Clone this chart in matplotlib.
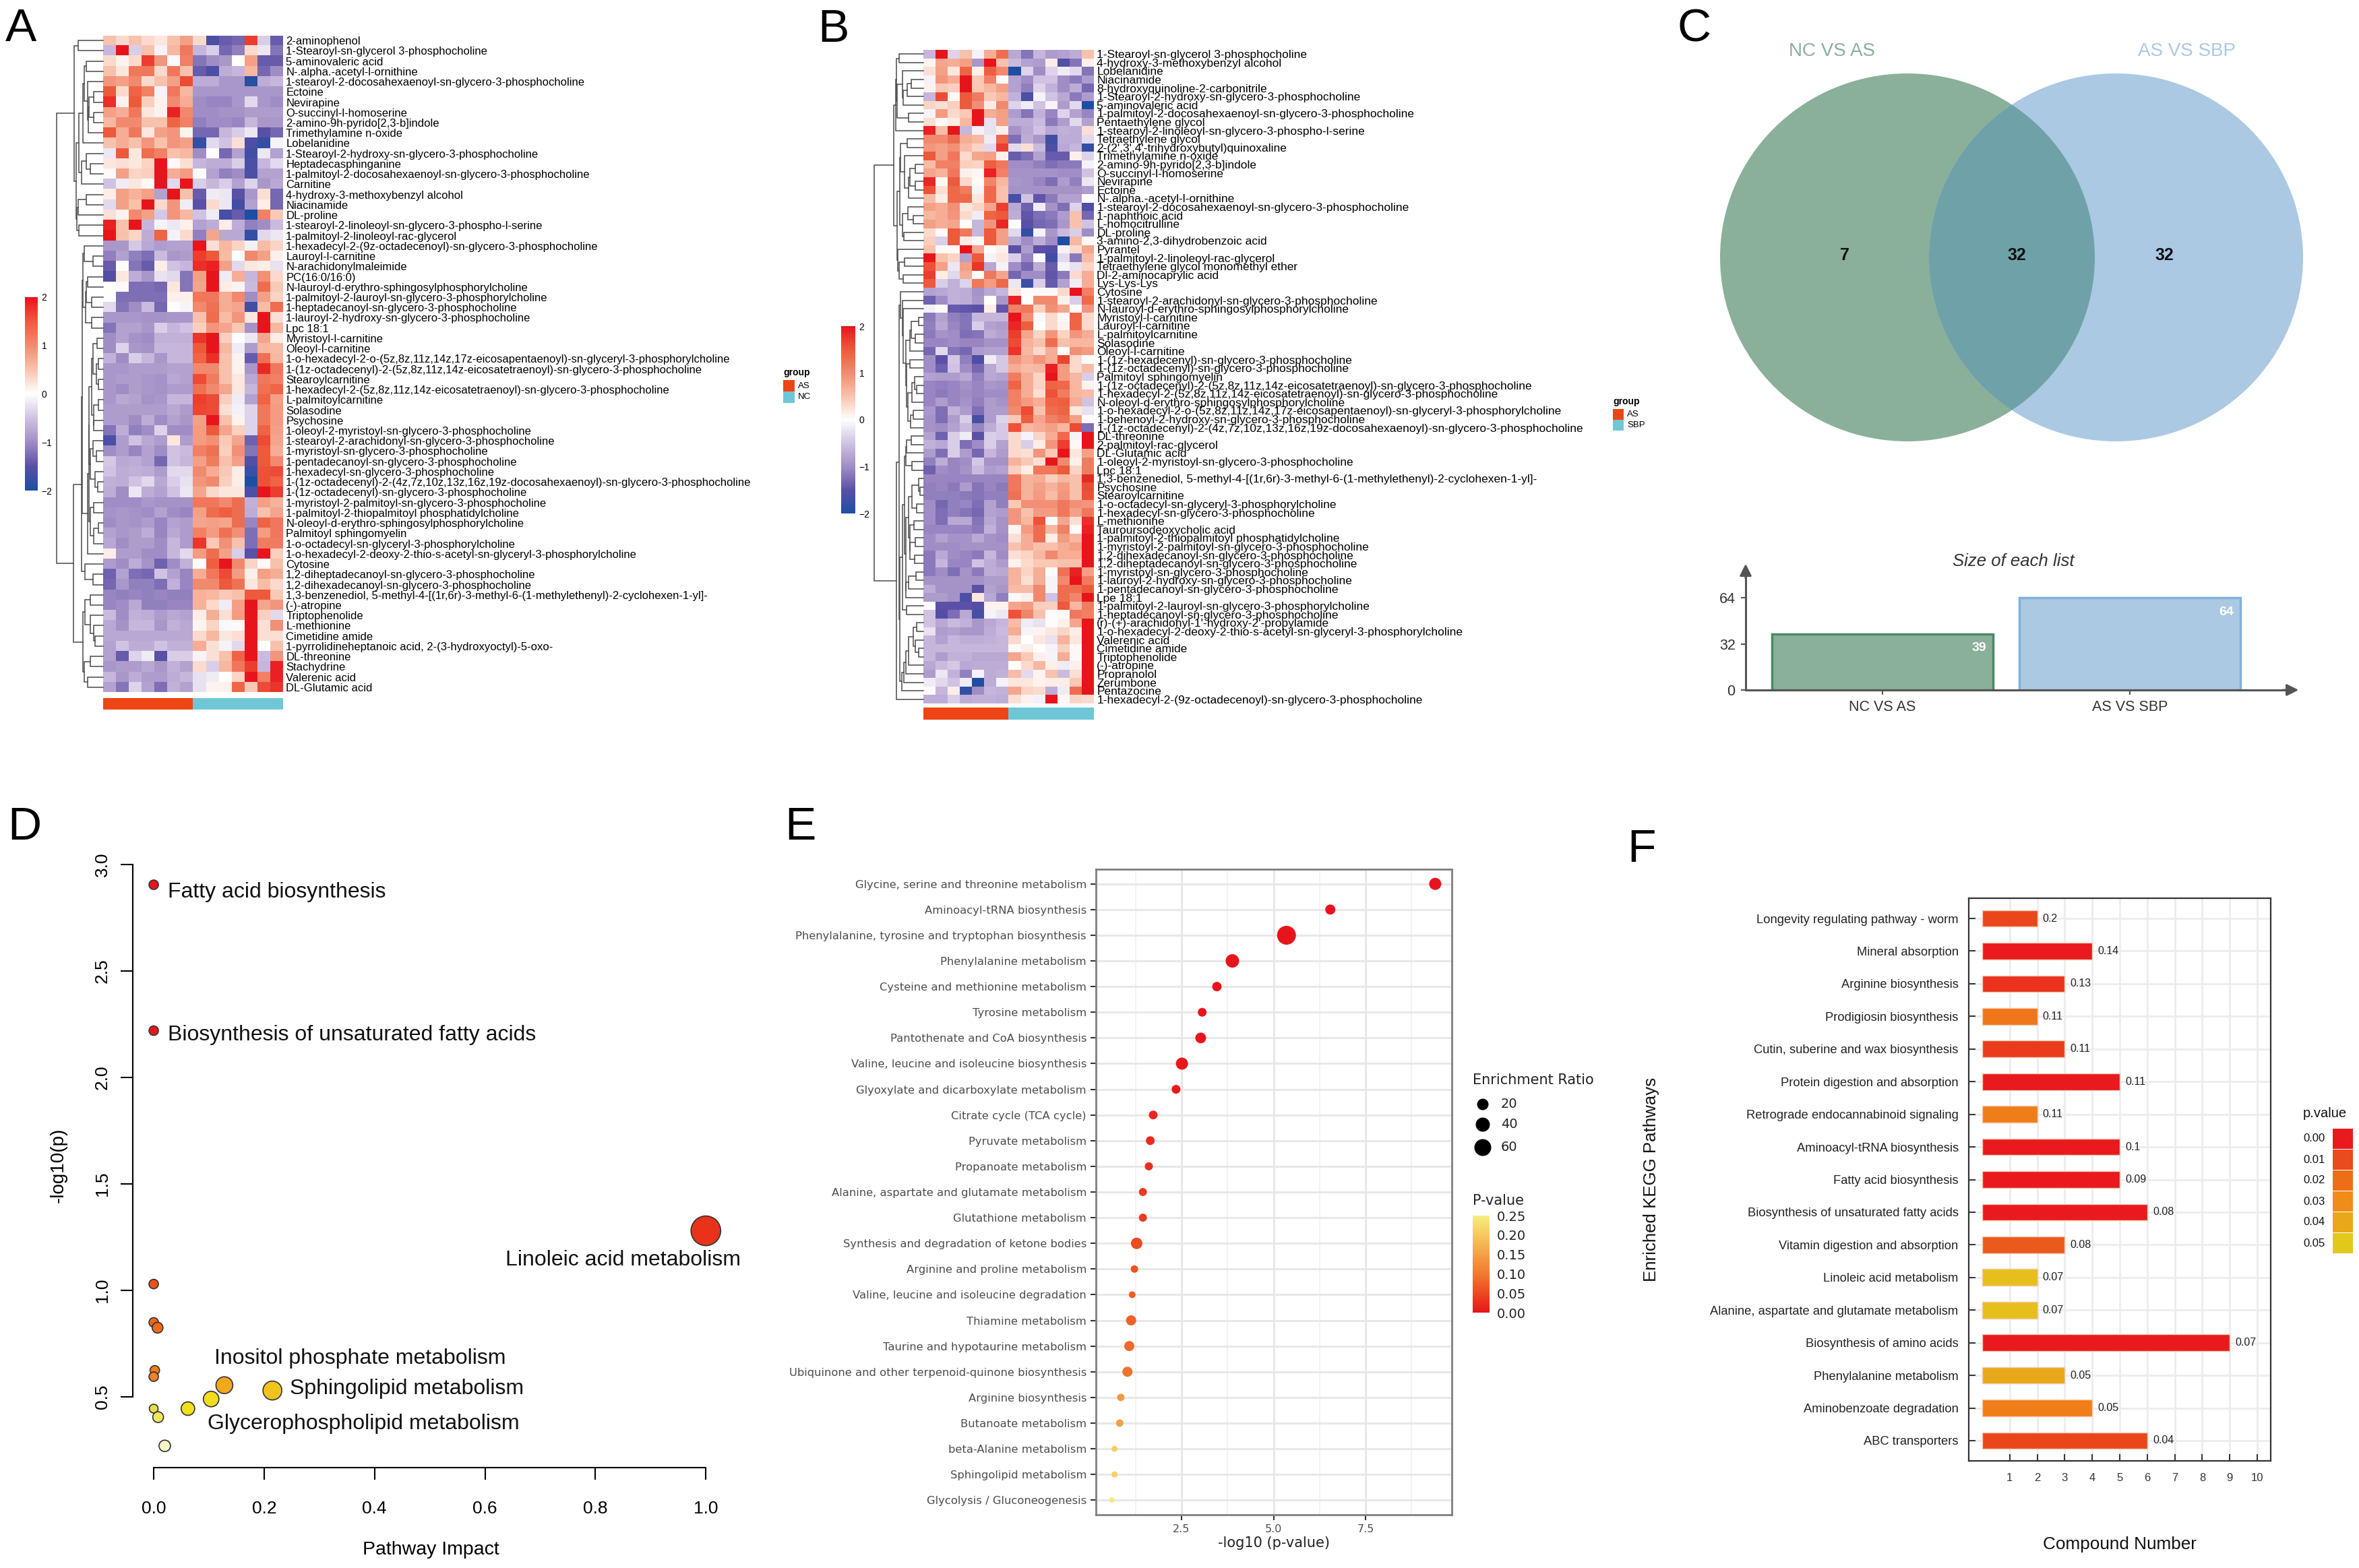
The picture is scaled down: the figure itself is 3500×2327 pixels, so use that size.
import matplotlib
matplotlib.use('Agg')
import matplotlib.pyplot as plt
from matplotlib.colors import LinearSegmentedColormap, Normalize
from matplotlib.patches import Ellipse, Rectangle
import numpy as np

plt.rcParams['font.family'] = ['Liberation Sans', 'DejaVu Sans']

W, H = 3500, 2327

# ---- panel A ----
a_labels = ['2-aminophenol', '1-Stearoyl-sn-glycerol 3-phosphocholine', '5-aminovaleric acid', 'N-.alpha.-acetyl-l-ornithine',
    '1-stearoyl-2-docosahexaenoyl-sn-glycero-3-phosphocholine', 'Ectoine', 'Nevirapine', 'O-succinyl-l-homoserine',
    '2-amino-9h-pyrido[2,3-b]indole', 'Trimethylamine n-oxide', 'Lobelanidine', '1-Stearoyl-2-hydroxy-sn-glycero-3-phosphocholine',
    'Heptadecasphinganine', '1-palmitoyl-2-docosahexaenoyl-sn-glycero-3-phosphocholine', 'Carnitine', '4-hydroxy-3-methoxybenzyl alcohol',
    'Niacinamide', 'DL-proline', '1-stearoyl-2-linoleoyl-sn-glycero-3-phospho-l-serine', '1-palmitoyl-2-linoleoyl-rac-glycerol',
    '1-hexadecyl-2-(9z-octadecenoyl)-sn-glycero-3-phosphocholine', 'Lauroyl-l-carnitine', 'N-arachidonylmaleimide', 'PC(16:0/16:0)',
    'N-lauroyl-d-erythro-sphingosylphosphorylcholine', '1-palmitoyl-2-lauroyl-sn-glycero-3-phosphorylcholine',
    '1-heptadecanoyl-sn-glycero-3-phosphocholine', '1-lauroyl-2-hydroxy-sn-glycero-3-phosphocholine', 'Lpc 18:1', 'Myristoyl-l-carnitine',
    'Oleoyl-l-carnitine', '1-o-hexadecyl-2-o-(5z,8z,11z,14z,17z-eicosapentaenoyl)-sn-glyceryl-3-phosphorylcholine',
    '1-(1z-octadecenyl)-2-(5z,8z,11z,14z-eicosatetraenoyl)-sn-glycero-3-phosphocholine', 'Stearoylcarnitine',
    '1-hexadecyl-2-(5z,8z,11z,14z-eicosatetraenoyl)-sn-glycero-3-phosphocholine', 'L-palmitoylcarnitine', 'Solasodine', 'Psychosine',
    '1-oleoyl-2-myristoyl-sn-glycero-3-phosphocholine', '1-stearoyl-2-arachidonyl-sn-glycero-3-phosphocholine',
    '1-myristoyl-sn-glycero-3-phosphocholine', '1-pentadecanoyl-sn-glycero-3-phosphocholine', '1-hexadecyl-sn-glycero-3-phosphocholine',
    '1-(1z-octadecenyl)-2-(4z,7z,10z,13z,16z,19z-docosahexaenoyl)-sn-glycero-3-phosphocholine', '1-(1z-octadecenyl)-sn-glycero-3-phosphocholine',
    '1-myristoyl-2-palmitoyl-sn-glycero-3-phosphocholine', '1-palmitoyl-2-thiopalmitoyl phosphatidylcholine',
    'N-oleoyl-d-erythro-sphingosylphosphorylcholine', 'Palmitoyl sphingomyelin', '1-o-octadecyl-sn-glyceryl-3-phosphorylcholine',
    '1-o-hexadecyl-2-deoxy-2-thio-s-acetyl-sn-glyceryl-3-phosphorylcholine', 'Cytosine', '1,2-diheptadecanoyl-sn-glycero-3-phosphocholine',
    '1,2-dihexadecanoyl-sn-glycero-3-phosphocholine', '1,3-benzenediol, 5-methyl-4-[(1r,6r)-3-methyl-6-(1-methylethenyl)-2-cyclohexen-1-yl]-',
    '(-)-atropine', 'Triptophenolide', 'L-methionine', 'Cimetidine amide', '1-pyrrolidineheptanoic acid, 2-(3-hydroxyoctyl)-5-oxo-',
    'DL-threonine', 'Stachydrine', 'Valerenic acid', 'DL-Glutamic acid']

a_values = [
 [.5,.3,.5,.3,.2,.5,.8,.3,-1.6,-1.4,-1.3,1.7,-.4,-1.4],
 [-.6,2,-.4,.5,-.1,.6,1.2,-.6,-.4,-1.3,-1.1,.3,-.2,-1.2],
 [.3,.1,.3,1.7,.9,-.05,1.1,-1.2,-1,-.9,0,.8,-1.4,-1.4],
 [.5,.2,1.2,1.2,.3,1.2,.5,-1.4,-1.6,-.7,-.6,.6,-1.3,-1],
 [.9,.8,1,.3,.5,.8,1.6,-.7,-.7,-.9,-.9,-1.9,-.7,-.6],
 [1.5,.3,1.4,1.1,-.1,1.2,.6,-.9,-.9,-.9,-.9,-.9,-.9,-.9],
 [1.8,.1,1.5,.4,.1,1,.7,-1,-1.05,-1.05,-.9,-.3,-.9,-1],
 [.8,.7,1.2,.2,.1,1.9,1,-1,-1,-.95,-.95,-.85,-.85,-.85],
 [.6,1,1,.5,.5,1.4,1.1,-1.1,-1,-1,-1.05,-.6,-.9,-.9],
 [1.5,.7,1.2,.2,.8,.9,.1,-1.3,-1.3,-.6,-.4,-.2,-1.5,-1.3],
 [.5,.7,.5,.9,.5,.9,.8,-1.8,-.3,-.5,.25,-1.6,-1.8,-.1],
 [-.2,1.5,.2,1.3,1.1,.5,.6,-1,0,-1.3,-.8,-1.7,-.2,-.8],
 [.2,.25,.2,.35,2,.05,.25,-.6,-.7,-.7,-.4,-1.6,-.6,-.3],
 [.05,.8,.35,.4,2,.7,.85,.02,-.8,-1.1,-1,-1.6,-.8,-.8],
 [-.5,-.15,.2,.05,2,-.3,2,-.4,-.6,-.4,-.8,-.35,-.9,-.75],
 [.15,.8,.65,.8,-.8,2,.5,-1.4,-.15,-.2,-1.5,-.9,.25,-1.3],
 [-.3,.8,.5,2,.3,.9,-.15,-1.5,.3,-.2,-1.7,-.8,.15,-1.3],
 [.25,.1,1,.8,-.45,.9,.6,-.5,-.15,-1.65,-1.4,-2,1.1,.45],
 [1.9,.5,2,-.6,-.08,-.2,.12,-.8,-.7,.15,-.7,-1.1,-1,-.55],
 [2,.5,.35,-.7,1.4,-.1,.3,-1.1,.75,-.75,-.75,-1.8,-.3,-.2],
 [-.9,-.9,-.45,-.75,-.85,-.8,-.8,2,.25,.6,.35,-.12,.55,.35],
 [-1.1,-.8,-1.1,-1.25,-.55,-.9,-.85,1.7,1.5,.55,0,1,.8,.12],
 [-1.4,.03,-1.2,-1.4,.15,-.5,-.6,1.8,1.9,.8,-.3,.2,.15,-.25],
 [-1.55,.2,-.7,-.9,-.25,-.3,-1.2,.8,2,-.15,.7,-.6,.95,.3],
 [0,.06,-1.25,-1.25,-1.3,.2,-1.2,.75,2,.15,.08,-.55,1.3,.45],
 [0,-1.25,-1.25,-1.25,-1.25,.12,.12,1.2,1.2,.7,1,-1,.8,.35],
 [-.3,-1.2,-1,-.55,-1.3,-.02,-.08,1,1.25,.7,.75,-1.7,.55,1.3],
 [-.9,-.9,-.9,-.95,-.95,-.9,-.9,.5,1.3,.55,.9,.2,2,.25],
 [-1.2,-.8,-.8,-.9,-.4,-.6,-.5,.4,.9,.75,.45,-.95,2,.6],
 [-1,-.8,-.95,-1,-.65,-.65,-.65,1.75,2,.4,-.02,-.2,.75,.15],
 [-1,-.35,-.9,-.95,-.6,-.6,-.6,1.5,2,.6,-.15,-.85,.6,.55],
 [-.65,-1,-.4,-.6,-.9,-.6,-.6,1.4,1.8,.5,.1,-1.4,1.25,.6],
 [-.9,-.9,-.85,-.85,-.85,-.8,-.8,1,1,.5,.1,-.9,1.85,1.2],
 [-.9,-.85,-.85,-.9,-.95,-.75,-.8,1.6,1.15,.5,.2,-.75,1.2,1.1],
 [-.9,-1,-.85,-.9,-.95,-.85,-.85,1.25,1,.75,.2,-.6,1.25,1.4],
 [-.9,-.75,-.8,-.95,-.9,-.6,-.6,1.7,1.6,.4,-.15,-.8,1.4,.8],
 [-.85,-.85,-.85,-.85,-.85,-.75,-.85,1.65,1.6,.25,-.12,-.35,1.2,.85],
 [-.85,-.85,-1,-.7,-1,-.8,-.9,.8,2,.5,.1,-.35,1.2,.85],
 [-1.2,-.7,-1.1,-1,-.35,-1,-1,.85,1.5,.75,.4,-.35,1.4,.8],
 [-1.6,-.85,-.5,-.75,-.85,.2,-.85,.85,.95,.45,.75,-1.35,1.6,.75],
 [-1,-.85,-1.05,-.8,-1,-.5,-.55,1.1,1.25,.4,.95,-1.2,1.5,.7],
 [-.45,-.75,-.7,-.8,-1.3,-.5,-.6,.8,1.15,.5,.8,-1.55,1.5,1],
 [-.5,-.7,-.65,-.7,-.85,-.3,-.3,1,.7,.45,.15,-1.75,1.55,1.6],
 [-.65,-.7,-.5,-.3,-.75,-.4,-.25,.9,1,.4,.15,-2,1.55,1.4],
 [-.7,-1,-.2,-.7,-.8,-.5,-.2,.75,.3,.2,.2,-1.6,2,1.7],
 [-1,-1,-1,-.9,-.95,-.95,-.95,1.2,1.2,1,1.3,-.65,.8,.65],
 [-.95,-.9,-.95,-1,-.8,-1,-1.05,.8,1.3,1.45,1.3,-.7,.5,.75],
 [-1,-.9,-.95,-.85,-1.05,-.8,-.85,.75,.8,.75,1.3,-1.05,1.4,1.2],
 [-.8,-.9,-.85,-.7,-1.05,-.75,-.85,1.1,.85,1.25,.95,-1.25,.85,1.2],
 [-.75,-1,-.85,-.85,-1,-.6,-.85,1.75,.45,.95,.5,-1.25,1.15,1.15],
 [.15,-.85,-.85,-1,-1,-.6,-.3,.85,1.3,.8,-.4,-1.5,2,.4],
 [-.85,-1,-.7,-.95,-1.35,-1,-.65,.02,1.45,2,1,.35,.06,.5],
 [-1.35,-.8,-1.25,-1.3,-.5,-.8,-1.05,.7,1.2,1.6,.85,.12,.8,.7],
 [-1.3,-.9,-1.1,-1.1,-1.25,-.65,-1.05,1,1,1.5,1.25,.2,.55,.3],
 [-1.05,-1.1,-1.05,-1.1,-1.05,-1.1,-1.1,.65,.6,.45,.5,1.5,1.5,.45],
 [-1.05,-1,-.75,-1.1,-1.1,-1.05,-1.05,.65,.3,-.15,.8,2,.75,.9],
 [-.55,-1,-.65,-.7,-.85,-.75,-.8,.15,.7,.25,.85,2,.4,-.3],
 [-.75,-.95,-.6,-.6,-.9,-.65,-.75,.08,.35,-.05,.05,2,.25,.95],
 [-.75,-.75,-.75,-.75,-.75,-.75,-.75,.3,.6,.2,.25,2,.25,.25],
 [-.8,-.5,-.7,-.7,-.5,-.65,-.65,.7,.25,-.1,-.3,2,0,.5],
 [-.8,-1.4,-.35,-.15,-1.5,-.4,-.4,-.08,.25,.5,1.4,2,-.55,.9],
 [-.9,-.85,-.85,-.75,-.9,-.65,-.8,.3,-.4,.6,1.2,1.7,-.6,1.9],
 [-.6,-.9,-.7,-.85,-.85,-.7,-.6,-.25,-.15,0,.35,2,1.1,1.9],
 [-.8,-1.2,-.35,-.8,-1.25,-.65,-.8,-.25,.08,.1,1.4,.45,1.6,1.75],
]

# row tree: (height, left, right), leaves are 1-based rows
a_tree = (1.0,
    (.62, (.54, 1, 2),
        (.58,
            (.52, (.43, (.41, (.36, 3, 4), (.34, 5, (.32, (.3, (.2, 6, 7), (.2, 8, 9)), 10))), 11),
                (.46, (.36, 12, (.28, 13, 14)), 15)),
            (.56, (.54, (.36, 16, 17), 18), (.52, 19, 20)))),
    (.64,
        (.47,
            (.45,
                (.43, (.41, 21, (.22, 22, 23)), (.38, (.36, (.33, 24, 25), (.25, 26, 27)), (.25, 28, 29))),
                (.33, (.31, (.3,
                    (.25, (.22, (.13, 30, 31), (.15, (.1, 32, 33), (.1, 34, 35))), (.2, (.1, 36, 37), (.2, 38, 39))),
                    (.28, (.22, 40, (.15, 41, 42)), (.17, 43, (.11, 44, 45)))),
                    (.27, (.2, 46, 47), (.2, (.1, 48, 49), 50))), 51)),
            (.39, 52, (.22, 53, 54))),
        (.43,
            (.39, (.27, 55, 56), (.28, 57, (.2, 58, (.17, 59, 60)))),
            (.4, (.27, 61, 62), (.33, 63, 64)))))

# ---- panel B ----
b_labels = ['1-Stearoyl-sn-glycerol 3-phosphocholine', '4-hydroxy-3-methoxybenzyl alcohol', 'Lobelanidine', 'Niacinamide',
    '8-hydroxyquinoline-2-carbonitrile', '1-Stearoyl-2-hydroxy-sn-glycero-3-phosphocholine', '5-aminovaleric acid',
    '1-palmitoyl-2-docosahexaenoyl-sn-glycero-3-phosphocholine', 'Pentaethylene glycol', '1-stearoyl-2-linoleoyl-sn-glycero-3-phospho-l-serine',
    'Tetraethylene glycol', "2-(2',3',4'-trihydroxybutyl)quinoxaline", 'Trimethylamine n-oxide', '2-amino-9h-pyrido[2,3-b]indole',
    'O-succinyl-l-homoserine', 'Nevirapine', 'Ectoine', 'N-.alpha.-acetyl-l-ornithine', '1-stearoyl-2-docosahexaenoyl-sn-glycero-3-phosphocholine',
    '1-naphthoic acid', 'L-homocitrulline', 'DL-proline', '3-amino-2,3-dihydrobenzoic acid', 'Pyrantel', '1-palmitoyl-2-linoleoyl-rac-glycerol',
    'Tetraethylene glycol monomethyl ether', 'Dl-2-aminocaprylic acid', 'Lys-Lys-Lys', 'Cytosine', '1-stearoyl-2-arachidonyl-sn-glycero-3-phosphocholine',
    'N-lauroyl-d-erythro-sphingosylphosphorylcholine', 'Myristoyl-l-carnitine', 'Lauroyl-l-carnitine', 'L-palmitoylcarnitine', 'Solasodine',
    'Oleoyl-l-carnitine', '1-(1z-hexadecenyl)-sn-glycero-3-phosphocholine', '1-(1z-octadecenyl)-sn-glycero-3-phosphocholine', 'Palmitoyl sphingomyelin',
    '1-(1z-octadecenyl)-2-(5z,8z,11z,14z-eicosatetraenoyl)-sn-glycero-3-phosphocholine', '1-hexadecyl-2-(5z,8z,11z,14z-eicosatetraenoyl)-sn-glycero-3-phosphocholine',
    'N-oleoyl-d-erythro-sphingosylphosphorylcholine', '1-o-hexadecyl-2-o-(5z,8z,11z,14z,17z-eicosapentaenoyl)-sn-glyceryl-3-phosphorylcholine',
    '1-behenoyl-2-hydroxy-sn-glycero-3-phosphocholine', '1-(1z-octadecenyl)-2-(4z,7z,10z,13z,16z,19z-docosahexaenoyl)-sn-glycero-3-phosphocholine',
    'DL-threonine', '2-palmitoyl-rac-glycerol', 'DL-Glutamic acid', '1-oleoyl-2-myristoyl-sn-glycero-3-phosphocholine', 'Lpc 18:1',
    '1,3-benzenediol, 5-methyl-4-[(1r,6r)-3-methyl-6-(1-methylethenyl)-2-cyclohexen-1-yl]-', 'Psychosine', 'Stearoylcarnitine',
    '1-o-octadecyl-sn-glyceryl-3-phosphorylcholine', '1-hexadecyl-sn-glycero-3-phosphocholine', 'L-methionine', 'Tauroursodeoxycholic acid',
    '1-palmitoyl-2-thiopalmitoyl phosphatidylcholine', '1-myristoyl-2-palmitoyl-sn-glycero-3-phosphocholine', '1,2-dihexadecanoyl-sn-glycero-3-phosphocholine',
    '1,2-diheptadecanoyl-sn-glycero-3-phosphocholine', '1-myristoyl-sn-glycero-3-phosphocholine', '1-lauroyl-2-hydroxy-sn-glycero-3-phosphocholine',
    '1-pentadecanoyl-sn-glycero-3-phosphocholine', 'Lpe 18:1', '1-palmitoyl-2-lauroyl-sn-glycero-3-phosphorylcholine', '1-heptadecanoyl-sn-glycero-3-phosphocholine',
    "(r)-(+)-arachidonyl-1'-hydroxy-2'-propylamide", '1-o-hexadecyl-2-deoxy-2-thio-s-acetyl-sn-glyceryl-3-phosphorylcholine', 'Valerenic acid',
    'Cimetidine amide', 'Triptophenolide', '(-)-atropine', 'Propranolol', 'Zerumbone', 'Pentazocine', '1-hexadecyl-2-(9z-octadecenoyl)-sn-glycero-3-phosphocholine']

b_values = [
 [-.6,2,-.35,.5,-.1,.7,1.3,-.75,-1.2,-.6,-.85,-.8,-.7,.5],
 [.08,.75,.7,.8,-.9,2,.5,-.55,-.8,-.85,.15,-1.55,-1.2,.12],
 [.25,.8,.2,1.4,.12,1.45,1,-2,-.35,-1,-.35,-.15,-.3,-1.2],
 [-.1,.9,.7,2,.45,1.1,0,-.8,-1,-.5,-.5,-1,-1.15,-.85],
 [.1,.45,.4,2,.45,.6,.8,-.8,-1.1,-.35,-.65,-1,-.7,-1.3],
 [-.6,1.6,.05,1.5,1.15,.45,.6,-.65,-1.6,-.1,-.5,-.75,-1.15,-.85],
 [.35,.25,.4,1.5,.95,.15,1,-.35,-.15,-.5,-.08,-.85,-.3,-2],
 [-.08,.85,.3,.45,2,.7,.8,-.85,-1.2,-.65,-1.05,-.35,-.8,-1.05],
 [.25,.05,.15,.6,2,-.25,.8,-.7,-.7,-.55,-1.15,-.85,-.3,-.8],
 [1.9,.55,2,-.6,-.12,-.25,.12,-.95,-.75,-.5,-.75,-.65,-.7,.25],
 [1,1,1.3,.7,.6,-.15,1.35,-1.25,-.7,-.9,-1.7,-.7,-.7,-.3],
 [.9,.8,.95,.55,.35,-.3,1.7,-.3,.25,-.55,-1.6,-.75,-.6,-1.8],
 [1.5,.8,1.2,.3,.75,.8,.12,-1.4,-1.25,-.8,-1.4,-1.4,.12,-.35],
 [.55,1.1,1.1,.4,.35,1.45,1.2,-1,-1,-1.1,-1.25,-1.15,-1.15,-.1],
 [.75,.65,1.2,.12,.07,1.9,1.1,-.95,-.95,-.95,-.95,-1,-1,-.5],
 [1.85,.07,1.5,.3,.05,1.05,.6,-.9,-.95,-1.05,-1.25,-.85,-1.1,-.2],
 [1.55,.25,1.35,1.15,-.08,1.35,.5,-.95,-.95,-.95,-.95,-.95,-.95,-.85],
 [.55,.15,1.35,1.35,.2,1.35,.5,-1.65,-.5,-1.45,-1.15,-.8,-.8,.03],
 [.8,.7,.95,.2,.35,.75,1.7,-.75,-1.35,-.15,-.95,-1.25,-.35,-1.6],
 [.6,.7,.9,.3,-.15,1.4,1.5,-.7,-1.45,-1.25,-1.15,-.85,.5,-1.3],
 [.8,.7,.75,.03,-.6,.9,1.85,0,-1.5,-1.3,-1.25,-.9,.5,-.5],
 [.3,.06,1.5,1.2,-.6,1.5,.8,-.3,-1.8,-.1,-.9,-.55,-.4,-1],
 [.4,-.4,1.5,.15,.06,1.5,.8,-.7,-1,-.7,-1,-2,.6,.06],
 [.5,.05,.05,2,.75,.03,.12,-1.5,-.85,-1.5,-1.55,-.1,.3,.75],
 [2,.5,.35,-.8,1.5,-.1,.2,-.4,-1.05,0,-1.7,-.3,-1.15,.55],
 [1.55,.8,-.2,.8,1.75,-.75,-.1,-1,-1.3,-.7,-1.4,-.1,-.25,.35],
 [1.7,.15,-.3,.7,.02,1.2,.75,-1.3,-1,-1,-1.45,-1.15,.3,.7],
 [1.5,-.4,-.65,-.35,1.2,.85,1.35,-.2,-1.75,-.4,-1.4,-.8,-.15,.7],
 [-.8,-.75,-.65,-.7,-.95,-.75,-.6,.2,.02,.05,.06,.3,2,1.1],
 [-1.35,-1,-.65,-.7,-.9,0,-.9,1.9,0,1,1,.12,-.4,1.35],
 [-.12,0,-1.4,-1.45,-1.5,.15,-1.45,1.1,1.2,.4,.95,.75,0,.9],
 [-1.15,-.8,-1.1,-1.2,-.6,-.6,-.6,2,.95,-.05,.3,.05,1.4,.3],
 [-1.1,-.75,-1.05,-1.2,-.4,-.8,-.85,1.85,1.45,0,.3,.1,1.4,.3],
 [-1.15,-.95,-1,-1.25,-1.2,-.7,-.8,1.7,.75,.35,.9,.35,.9,.7],
 [-1.05,-1.05,-1,-1.05,-1.05,-.95,-.95,1.6,.65,.5,1.3,.5,.6,.6],
 [-1.3,-.3,-1.2,-1.3,-.85,-.8,-.8,1.75,.6,.3,.7,-.03,.95,.85],
 [-1,-1.5,-.45,-1.1,-1.6,-.15,-.45,.9,.7,.9,.7,1.65,.3,.02],
 [-1,-1.35,-.5,-1,-1.3,-.75,-.45,.7,.55,.6,1.9,.85,.3,.55],
 [-.8,-.85,-.85,-.75,-1.1,-.75,-.8,1.15,.7,.35,2,.85,.6,-.4],
 [-1.05,-1.1,-1.05,-.95,-1.05,-.9,-.95,1.4,.7,.35,1.4,1.35,.6,.08],
 [-1.05,-1.15,-1.05,-1,-1.05,-1,-1,1.1,.7,.25,1.55,1.15,.6,.55],
 [-1.05,-.85,-1.05,-.95,-1.1,-.85,-.95,1.1,.85,.7,1.4,1.45,.7,-.5],
 [-.9,-1.25,-.65,-.85,-1.25,-.85,-.85,1,1.6,.5,1.3,1.4,.2,-.25],
 [-.95,-1.25,-.85,-.4,-1.65,-.85,-.35,.45,1.45,.75,1.1,1.25,.8,.03],
 [-.95,-1,-.8,-.55,-1.05,-.7,-.45,1.55,.6,.7,.8,.6,1.6,-1.25],
 [-.8,-1.35,-.4,-.15,-1.5,-.4,-.45,.3,-.1,.35,.7,1.35,-.08,2],
 [-.65,-.75,-.4,-1.25,-1,-.4,-.8,.3,-.4,.15,.9,1.7,.05,2],
 [-.85,-1.25,-.4,-.85,-1.3,-.6,-.85,.3,.25,.9,.45,2,.2,.8],
 [-1.1,-.7,-1.05,-1,-.45,-.95,-.95,.65,.45,.25,2,1,.12,1.15],
 [-1.35,-1,-1.05,-.95,-.55,-.85,-.8,.4,.15,1.2,1.2,1.5,.35,1.15],
 [-1.05,-1.05,-1.05,-1.05,-1.05,-1.05,-1.05,1.2,.65,.7,.4,.6,.5,1.85],
 [-1.1,-1.05,-1.15,-.85,-1.2,-1.05,-1.15,1.2,.65,.8,.65,.85,.5,1.6],
 [-1.1,-1.1,-1.1,-1.15,-1.2,-1.1,-1.1,1.25,.65,.85,.55,.9,.5,1.55],
 [-1,-1.3,-1.1,-1.05,-1.25,-.8,-1.1,.45,.95,.95,.95,1.2,.95,.9],
 [-1,-1.25,-1.1,-1.2,-1.3,-.8,-.85,.9,.5,.85,.85,1.2,.8,1.2],
 [-1,-1.25,-.75,-.75,-1.2,-.75,-.95,.9,.6,1.55,-.05,.75,.25,1.8],
 [-1.05,-1.05,-1.05,-1.05,-1.15,-.65,-.95,.08,.85,1.3,.6,1.1,.02,1.9],
 [-1,-.8,-.95,-.95,-.75,-.95,-1,.25,.7,1.3,.15,.85,.6,2],
 [-1,-1,-1,-.95,-.95,-.95,-.95,.5,.7,.5,.5,.7,.8,2],
 [-1.15,-.75,-1,-1.05,-1.15,-.6,-1,.25,.35,.6,1,.7,.7,2],
 [-1.15,-.6,-1.05,-1.05,-.5,-.7,-.85,.1,.3,.45,.45,.5,.5,2],
 [-1.15,-1,-1.25,-.95,-1.15,-.7,-.75,.65,.35,.7,.02,1.25,1.9,.8],
 [-.95,-.95,-.95,-.95,-.95,-.85,-.85,.65,.25,.7,-.08,1,2,1.15],
 [-.7,-.95,-.95,-.95,-1.5,-.8,-.9,.55,.55,1,-.08,1.3,1.3,1.5],
 [-.85,-.85,-.95,-1.6,.2,-.75,-1.1,.05,.12,1,-.5,1.3,1.05,2],
 [-.03,-1.5,-1.5,-1.5,-1.55,.1,.1,.75,.85,.4,.4,1.5,.6,1.15],
 [-.5,-1.55,-1.25,-.75,-1.65,-.1,-.2,1.55,1.05,.5,.03,.05,1.2,1.1],
 [-.5,-.75,-.55,-.65,-.9,-.75,-.6,.55,-.15,-.25,.03,.12,.75,2],
 [-.25,-.85,-.8,-.9,-.9,-.7,-.55,.7,-.08,.08,.2,.35,.15,2],
 [-.6,-.8,-.6,-.7,-.7,-.65,-.6,.3,0,.2,-.25,.65,.2,2],
 [-.6,-.6,-.6,-.6,-.6,-.6,-.6,.05,.15,0,-.1,.4,.05,2],
 [-.6,-.85,-.65,-.65,-.75,-.75,-.75,.75,.45,.12,-.08,.7,.05,2],
 [-.75,-.55,-.45,-.75,-.7,-.7,-.7,-.01,.3,.6,.12,-.15,.12,2],
 [-.85,-.2,-.65,-1.1,-.1,-.7,-.65,.55,-.3,.08,.5,-.55,.25,2],
 [-.15,-.3,-.5,-.15,-2,-.7,-.1,.2,.2,.1,.15,.15,.45,2],
 [-.02,-.6,.15,-1.8,-1,-.6,-.65,.75,.35,.3,-.7,-.15,1.3,2],
 [-.7,-.7,-.4,-.7,-.65,-.65,-.7,.25,.1,-.12,2,.06,.35,.3],
]

b_tree = (1.0,
    (.6,
        (.56,
            (.55, (.5, 1, 2), (.53, (.42, 3, (.41, (.33, 6, (.24, 4, 5)), 7)), (.3, 8, 9))), 10),
        (.54,
            (.48,
                (.46, (.33, 11, 12), (.39, 13, (.3, (.28, (.16, 14, 15), (.16, 16, 17)), 18))),
                (.43, (.32, 19, (.21, 20, 21)), (.4, 22, 23))),
            (.52, 24, (.5, (.39, 25, 26), (.41, 27, 28))))),
    (.55,
        (.5,
            (.47, 29, (.43, 30, (.41, 31, (.36,
                (.27, (.25, (.09, 32, 33), (.16, 34, 35)), 36),
                (.34, (.27, 37, 38), (.32, (.23, (.18, 39, (.14, 40, 41)), 42), (.26, (.2, 43, 44), 45))))))),
            (.48,
                (.42,
                    (.38,
                        (.36, (.34, (.25, 46, 47), 48), (.23, 49, 50)),
                        (.36,
                            (.3, (.23, (.1, 51, (.07, 52, 53)), (.14, 54, 55)), (.27, (.19, 56, 57), (.27, (.16, 58, 59), (.18, 60, 61)))),
                            (.35, (.3, (.15, 62, 63), 64), 65))),
                    (.34, 66, 67)),
                (.44, (.4, (.36, (.3, (.2, (.14, 68, 69), (.17, 70, (.09, 71, 72))), 73), 74), 75), 76))),
        77))

heat_colors = [(-2, '#1c4fa3'), (-1.5, '#5a50a6'), (-1, '#a18dc5'), (-.5, '#d0c2e2'), (0, '#ffffff'),
               (.5, '#f9c3ae'), (1, '#f28b70'), (1.5, '#ee5b3c'), (2, '#e8141c')]
group_a = ['AS', 'NC']
group_b = ['AS', 'SBP']

# ---- panel C ----
venn_names = ['NC VS AS', 'AS VS SBP']
venn_counts = [7, 32, 32]
list_sizes = [39, 64]

# ---- panel D ----
d_names = ['Fatty acid biosynthesis', 'Biosynthesis of unsaturated fatty acids', 'Linoleic acid metabolism',
           'Inositol phosphate metabolism', 'Sphingolipid metabolism', 'Glycerophospholipid metabolism']
d_impact = [0, 0, 1.0, 0, 0, .007, .002, 0, .128, .215, .104, .062, 0, .008, .02]
d_logp = [2.905, 2.22, 1.28, 1.03, .85, .825, .625, .595, .555, .53, .49, .445, .445, .405, .27]
d_diam = [14, 14, 44, 14, 14, 16, 14, 14, 25, 28, 23, 20, 13, 16, 17]
d_color = ['#e8161c', '#e8161c', '#e8321a', '#ee501c', '#f0651c', '#ee6a1c', '#f07a1c', '#f08020', '#f2a81c',
           '#f2c31c', '#f2dc1c', '#f0e01e', '#e8e040', '#eee85a', '#f8f5c8']

# ---- panel E ----
e_names = ['Glycine, serine and threonine metabolism', 'Aminoacyl-tRNA biosynthesis', 'Phenylalanine, tyrosine and tryptophan biosynthesis',
           'Phenylalanine metabolism', 'Cysteine and methionine metabolism', 'Tyrosine metabolism', 'Pantothenate and CoA biosynthesis',
           'Valine, leucine and isoleucine biosynthesis', 'Glyoxylate and dicarboxylate metabolism', 'Citrate cycle (TCA cycle)',
           'Pyruvate metabolism', 'Propanoate metabolism', 'Alanine, aspartate and glutamate metabolism', 'Glutathione metabolism',
           'Synthesis and degradation of ketone bodies', 'Arginine and proline metabolism', 'Valine, leucine and isoleucine degradation',
           'Thiamine metabolism', 'Taurine and hypotaurine metabolism', 'Ubiquinone and other terpenoid-quinone biosynthesis',
           'Arginine biosynthesis', 'Butanoate metabolism', 'beta-Alanine metabolism', 'Sphingolipid metabolism', 'Glycolysis / Gluconeogenesis']
e_logp = [9.39, 6.54, 5.35, 3.88, 3.46, 3.06, 3.02, 2.51, 2.35, 1.73, 1.65, 1.61, 1.45, 1.45, 1.28, 1.22, 1.16, 1.13, 1.08, 1.03, .85, .82, .68, .68, .61]
e_diam = [18, 15, 28, 20, 14, 13, 16, 18, 13, 13, 13, 12, 12, 12, 17, 11, 10, 15, 15, 15, 11, 11, 9, 9, 8]
e_legend_sizes = [20, 40, 60]
e_legend_diam = [17, 21, 25]
e_colors = [(0, '#e8141c'), (.05, '#ec4a20'), (.10, '#f07a30'), (.15, '#f4a048'), (.20, '#f6c860'), (.25, '#f5ee80')]

# ---- panel F ----
f_names = ['Longevity regulating pathway - worm', 'Mineral absorption', 'Arginine biosynthesis', 'Prodigiosin biosynthesis',
           'Cutin, suberine and wax biosynthesis', 'Protein digestion and absorption', 'Retrograde endocannabinoid signaling',
           'Aminoacyl-tRNA biosynthesis', 'Fatty acid biosynthesis', 'Biosynthesis of unsaturated fatty acids', 'Vitamin digestion and absorption',
           'Linoleic acid metabolism', 'Alanine, aspartate and glutamate metabolism', 'Biosynthesis of amino acids', 'Phenylalanine metabolism',
           'Aminobenzoate degradation', 'ABC transporters']
f_count = [2, 4, 3, 2, 3, 5, 2, 5, 5, 6, 3, 2, 2, 9, 3, 4, 6]
f_ratio = ['0.2', '0.14', '0.13', '0.11', '0.11', '0.11', '0.11', '0.1', '0.09', '0.08', '0.08', '0.07', '0.07', '0.07', '0.05', '0.05', '0.04']
f_color = ['#ea461c', '#e81a1e', '#ea321c', '#f0761a', '#ea3c1c', '#e81a1e', '#f07e18', '#e81a1e', '#e81a1e', '#e81a1e', '#ea5a1c',
           '#e6bf1c', '#e6bf1c', '#e81a1e', '#e9a81a', '#f07e18', '#ea461c']
f_legend_p = ['0.00', '0.01', '0.02', '0.03', '0.04', '0.05']
f_legend_c = ['#e81a1e', '#ea4a1c', '#ee6e18', '#f08c18', '#e8a81a', '#e3c81c']

fig = plt.figure(figsize=(W / 100, H / 100), dpi=100)


def box(x0, y0, x1, y1, **kw):
    return fig.add_axes([x0 / W, 1 - y1 / H, (x1 - x0) / W, (y1 - y0) / H], **kw)


def pt(px):
    return px * 0.72


over = box(0, 0, W, H, zorder=10)
over.set_xlim(0, W)
over.set_ylim(H, 0)
over.axis('off')

for letter, x, y in [('A', 8, 61), ('B', 1213, 62), ('C', 2488, 61), ('D', 11, 1246), ('E', 1164, 1246), ('F', 2414, 1279)]:
    over.text(x, y, letter, fontsize=50, va='baseline', ha='left', color='black')


def draw_tree(ax, node):
    if not isinstance(node, tuple):
        return node - 1, 0
    h, left, right = node
    y1, h1 = draw_tree(ax, left)
    y2, h2 = draw_tree(ax, right)
    ax.plot([h1, h, h, h2], [y1, y1, y2, y2], color='#4a4a4a', lw=1.1, solid_joinstyle='miter', clip_on=False)
    return (y1 + y2) / 2, h


heat_cmap = LinearSegmentedColormap.from_list('heat', [((v + 2) / 4, c) for v, c in heat_colors])


def heatmap(values, labels, tree, groups, hx0, hx1, hy0, hy1, bar_y0, bar_y1, tree_x0, cb, lab_size, leg):
    values = np.array(values)
    n = len(labels)
    ax = box(hx0, hy0, hx1, hy1)
    im = ax.imshow(values, cmap=heat_cmap, vmin=-2, vmax=2, aspect='auto', interpolation='nearest')
    ax.set_xticks([])
    ax.yaxis.tick_right()
    ax.set_yticks(range(n), labels, fontsize=lab_size, color='black')
    ax.tick_params(axis='y', length=0, pad=3)
    for s in ax.spines.values():
        s.set_visible(False)

    tr = box(tree_x0, hy0, hx0, hy1)
    tr.set_xlim(1, 0)
    tr.set_ylim(n - .5, -.5)
    tr.axis('off')
    draw_tree(tr, tree)

    # group strip below the heatmap
    gb = box(hx0, bar_y0, hx1, bar_y1)
    gb.imshow([[0] * 7 + [1] * 7], cmap=LinearSegmentedColormap.from_list('g', ['#ee4514', '#6fc7d6']), aspect='auto', interpolation='nearest')
    gb.axis('off')

    ca = box(*cb)
    cbar = fig.colorbar(im, cax=ca, ticks=[-2, -1, 0, 1, 2])
    cbar.outline.set_visible(False)
    ca.tick_params(length=0, labelsize=10, pad=4)

    lx, ly, sq = leg
    over.text(lx, ly, 'group', fontsize=10, fontweight='bold', va='center')
    for i, (g, c) in enumerate(zip(groups, ['#ee4514', '#6fc7d6'])):
        over.add_patch(Rectangle((lx, ly + 11 + i * sq), sq, sq, fc=c, ec='none'))
        over.text(lx + sq + 5, ly + 11 + (i + .5) * sq, g, fontsize=9.5, va='center')


heatmap(a_values, a_labels, a_tree, group_a, 153, 420, 52.5, 1027.5, 1036, 1053, 84, (37, 441, 56, 728), 12.0, (1162, 553, 17))
heatmap(b_values, b_labels, b_tree, group_b, 1370, 1623, 74, 1044, 1050, 1068, 1297, (1248, 484, 1269, 762), 12.5, (2393, 596, 16))

# panel C: venn
venn_left = Ellipse((2830, 382), 556, 546, fc='#8ab09a', ec='none')
venn_right = Ellipse((3139.5, 382), 555, 546, fc='#abc9e3', ec='none')
venn_mid = Ellipse((3139.5, 382), 555, 546, fc='#6ea2a8', ec='none')
over.add_patch(venn_left)
over.add_patch(venn_right)
over.add_patch(venn_mid)
venn_mid.set_clip_path(Ellipse((2830, 382), 556, 546, transform=over.transData))
over.text(2718, 76, venn_names[0], color='#8ab09a', fontsize=20, ha='center', va='center')
over.text(3244, 76, venn_names[1], color='#abc9e3', fontsize=20, ha='center', va='center')
for x, c in zip([2737, 2992, 3211], venn_counts):
    over.text(x, 379, str(c), fontsize=18, fontweight='bold', ha='center', va='center', color='#111111')

ax = box(2590, 843, 3401, 1024)
ax.bar([0, 1], list_sizes, width=.894, color=['#8ab09a', '#abc9e3'], edgecolor=['#4a8a64', '#80b0da'], linewidth=2.5)
ax.set_xlim(-.553, 1.657)
ax.set_ylim(0, 84.6)
ax.set_xticks([0, 1], venn_names, fontsize=15.5, color='#333333')
ax.set_yticks([0, 32, 64], ['0', '32', '64'], fontsize=15.5, color='#333333')
ax.tick_params(colors='#555555', length=5, width=1.5, pad=6)
ax.tick_params(axis='x', labelcolor='#333333')
ax.tick_params(axis='y', labelcolor='#333333')
for s in ['top', 'right']:
    ax.spines[s].set_visible(False)
for s in ['left', 'bottom']:
    ax.spines[s].set_color('#555555')
    ax.spines[s].set_linewidth(2.2)
ax.annotate('', xy=(0, 1.05), xycoords='axes fraction', xytext=(0, .9), arrowprops=dict(arrowstyle='-|>', color='#555555', lw=2.2, mutation_scale=26))
ax.annotate('', xy=(1.015, 0), xycoords='axes fraction', xytext=(.98, 0), arrowprops=dict(arrowstyle='-|>', color='#555555', lw=2.2, mutation_scale=26))
for x, v in zip([0, 1], list_sizes):
    ax.text(x + .39, v - 10, str(v), color='white', fontsize=14, fontweight='bold', ha='center', va='center')
over.text(2987, 833, 'Size of each list', fontsize=18.5, style='italic', color='#333333', ha='center', va='center')

# panel D: pathway impact
ax = box(197, 1283, 1062, 2178)
ax.set_xlim(-.0379, 1.018)
ax.set_ylim(.168, 3.0)
ax.scatter(d_impact, d_logp, s=[pt(d) ** 2 for d in d_diam], c=d_color, edgecolors='#333333', linewidths=1.2, clip_on=False, zorder=3)
ax.spines['top'].set_visible(False)
ax.spines['right'].set_visible(False)
ax.spines['left'].set_bounds(.5, 3)
ax.spines['bottom'].set_bounds(0, 1)
ax.spines['left'].set_linewidth(1.5)
ax.spines['bottom'].set_linewidth(1.5)
ax.set_xticks([0, .2, .4, .6, .8, 1.0], ['0.0', '0.2', '0.4', '0.6', '0.8', '1.0'], fontsize=19)
ax.set_yticks([.5, 1, 1.5, 2, 2.5, 3], ['0.5', '1.0', '1.5', '2.0', '2.5', '3.0'], fontsize=19, rotation=90, va='center')
ax.tick_params(length=13, width=1.5)
ax.tick_params(axis='x', pad=22)
ax.tick_params(axis='y', pad=11)
over.text(639, 2300, 'Pathway Impact', fontsize=20.5, ha='center', va='center')
over.text(87, 1729, '-log10(p)', fontsize=20, ha='center', va='center', rotation=90)
for name, x, y in zip(d_names, [249, 249, 750, 318, 430, 308], [1324, 1536, 1870, 2016, 2061, 2113]):
    over.text(x, y, name, fontsize=23, ha='left', va='center', color='#111111')

# panel E: enrichment
p_cmap = LinearSegmentedColormap.from_list('p', [(v / .25, c) for v, c in e_colors])
ax = box(1626, 1290, 2154, 2248)
ypos = np.arange(len(e_names))[::-1]
ax.set_axisbelow(True)
ax.scatter(e_logp, ypos, s=[pt(d) ** 2 for d in e_diam], c=10 ** (-np.array(e_logp)), cmap=p_cmap, norm=Normalize(0, .25), linewidths=0, zorder=3)
ax.set_xlim(.174, 9.84)
ax.set_ylim(-.57, 24.57)
ax.set_xticks([2.5, 5, 7.5], ['2.5', '5.0', '7.5'], fontsize=11.5, color='#4d4d4d', family='DejaVu Sans')
ax.set_xticks([1.25, 3.75, 6.25, 8.75], minor=True)
ax.set_yticks(ypos, e_names, fontsize=11.8, color='#4d4d4d', family='DejaVu Sans')
ax.grid(which='major', color='#e8e8e8', lw=2.2)
ax.grid(which='minor', axis='x', color='#f0f0f0', lw=1.1)
ax.tick_params(which='minor', length=0)
ax.tick_params(which='major', length=6, width=1.5, color='#333333', pad=4)
for s in ax.spines.values():
    s.set_color('#7f7f7f')
    s.set_linewidth(2)
over.text(1890, 2290, '-log10 (p-value)', fontsize=15, ha='center', va='center', family='DejaVu Sans', color='#222222')
over.text(2185, 1603, 'Enrichment Ratio', fontsize=15, va='center', family='DejaVu Sans', color='#222222')
over.scatter([2200] * 3, [1639, 1669, 1703], s=[pt(d) ** 2 for d in e_legend_diam], color='black', linewidths=0)
for s, y in zip(e_legend_sizes, [1639, 1669, 1703]):
    over.text(2227, y, str(s), fontsize=14, va='center', family='DejaVu Sans', color='#222222')
over.text(2185, 1782, 'P-value', fontsize=15, va='center', family='DejaVu Sans', color='#222222')
cax = box(2185, 1804, 2210, 1948)
cb = fig.colorbar(plt.cm.ScalarMappable(Normalize(0, .25), p_cmap), cax=cax, ticks=[0, .05, .1, .15, .2, .25])
cb.outline.set_visible(False)
cb.ax.set_yticklabels(['0.00', '0.05', '0.10', '0.15', '0.20', '0.25'], fontsize=14, family='DejaVu Sans', color='#222222')
cax.tick_params(length=0, pad=8)

# panel F: KEGG bars
ax = box(2921, 1333, 3369, 2168)
ypos = np.arange(len(f_names))[::-1]
ax.set_axisbelow(True)
ax.barh(ypos, f_count, height=.51, color=f_color, edgecolor='#f6c9b0', linewidth=1, zorder=3)
ax.set_xlim(-.49, 10.49)
ax.set_ylim(-.62, 16.62)
ax.set_xticks(range(1, 11), [str(i) for i in range(1, 11)], fontsize=12, color='#333333')
ax.set_yticks(ypos, f_names, fontsize=13.2, color='#222222')
ax.grid(color='#ececec', lw=2)
ax.tick_params(direction='in', length=7, width=1.4, color='#333333')
ax.tick_params(axis='x', pad=13)
ax.tick_params(axis='y', pad=11)
for s in ax.spines.values():
    s.set_color('#333333')
    s.set_linewidth(1.6)
for y, c, r in zip(ypos, f_count, f_ratio):
    ax.text(c + .2, y, r, fontsize=11.5, va='center', ha='left', color='#222222')
over.text(2450, 1750, 'Enriched KEGG Pathways', fontsize=18.6, rotation=90, ha='center', va='center', color='#111111')
over.text(3145, 2292, 'Compound Number', fontsize=18.8, ha='center', va='center', color='#111111')
over.text(3417, 1653, 'p.value', fontsize=14.5, va='center', color='#111111')
for i, (p, c) in enumerate(zip(f_legend_p, f_legend_c)):
    over.add_patch(Rectangle((3461, 1675 + i * 31), 30, 29.5, fc=c, ec='none'))
    over.text(3417, 1690 + i * 31, p, fontsize=12, va='center', color='#111111')

fig.savefig('out.png', dpi=100)
